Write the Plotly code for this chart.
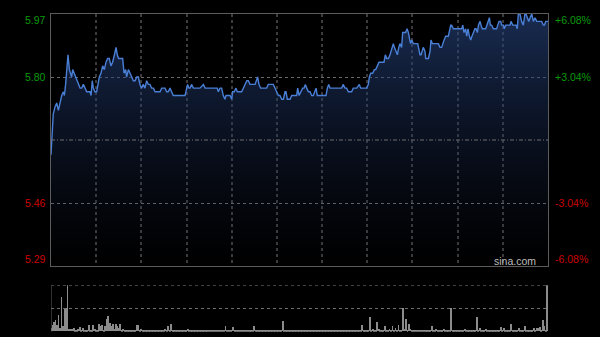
import plotly.graph_objects as go

# ---- data (minutes since 09:30, HK session with lunch break removed) ----
minutes = [0, 1.5, 2.7, 3.8, 4.9, 6.0, 7.1, 8.2, 8.9, 9.7, 10.4, 11.3, 12.2, 13.1, 13.7, 14.4, 15.3, 16.2, 17.0, 18.1,
           19.3, 20.4, 21.5, 22.6, 23.7, 24.8, 25.9, 26.6, 27.4, 28.1, 29.2, 30.3, 31.4, 32.1, 33.2, 34.3, 35.4, 36.5, 37.6, 38.7,
           39.8, 40.9, 42.1, 43.2, 44.0, 44.9, 46.5, 47.6, 48.5, 49.6, 50.2, 51.4, 52.5, 53.6, 54.7, 55.8, 56.9, 58.0, 59.1, 60.2,
           61.3, 62.4, 63.5, 64.6, 65.7, 66.8, 68.0, 69.1, 70.2, 72.4, 73.5, 74.6, 75.7, 76.8, 77.9, 79.0, 80.1, 81.2, 83.4, 85.6,
           87.9, 89.0, 90.1, 90.7, 91.6, 92.3, 93.4, 94.5, 96.7, 98.9,
           101.2, 102.3, 104.5, 106.7, 108.9, 110.4, 111.1, 112.2, 113.3, 114.4, 115.5, 116.2, 118.9, 120.0, 120.6, 121.7, 122.8, 123.7, 126.6, 127.7,
           128.8, 130.0, 131.0, 132.1, 135.5, 136.6, 137.2, 138.1, 139.2, 143.2, 144.3, 147.6, 148.7, 149.8, 151.0, 152.0, 153.2, 154.3, 155.4, 156.0,
           156.9, 158.7, 159.8, 163.1, 163.8, 164.7, 165.8, 167.1, 168.0, 168.9, 169.8, 170.9, 172.0, 173.1, 174.2, 175.3, 176.0, 176.8, 182.6, 183.5,
           184.4, 185.3, 193.0, 194.1, 195.2, 196.3, 197.4, 199.6, 200.7, 203.0, 204.7, 205.6, 209.6, 210.7, 211.4, 212.3, 213.6, 214.7, 215.6, 216.7,
           217.8, 221.1, 222.0, 222.9, 224.0, 225.1, 225.8, 226.7, 227.3, 228.0, 229.1, 230.0, 230.9, 231.7, 232.8, 233.5, 234.4, 235.5, 236.4, 237.3,
           238.2, 238.8, 239.5, 240.6, 243.5, 244.4, 245.0, 245.7, 246.3, 247.2, 248.3, 248.8, 250.6, 251.7, 252.3, 253.2, 257.2, 258.3, 259.4, 260.1,
           261.0, 262.1, 262.7, 263.8, 264.9, 265.4, 266.0, 267.2, 272.7, 273.4, 274.2, 275.3, 276.0, 276.9, 277.8, 278.7, 279.5, 280.4, 281.5, 282.2,
           283.1, 283.8, 284.9, 285.5, 286.4, 288.6, 289.3, 290.4, 291.1, 291.7, 292.6, 293.7, 295.9, 296.6, 297.5, 298.6, 299.2, 300.4, 301.0, 301.9,
           303.0, 303.9, 304.8, 305.4, 306.6, 308.8, 309.6, 310.3, 311.4, 312.5, 313.6, 314.7, 315.4, 316.3, 317.2, 318.1, 319.2, 320.3, 321.4, 322.5,
           325.8, 326.9, 327.6, 328.5, 330.0]
prices = [5.59, 5.70, 5.72, 5.73, 5.71, 5.73, 5.75, 5.76, 5.75, 5.78, 5.83, 5.86, 5.82, 5.81, 5.80, 5.82, 5.81, 5.80, 5.79, 5.78,
          5.77, 5.77, 5.78, 5.77, 5.76, 5.76, 5.76, 5.75, 5.79, 5.77, 5.76, 5.76, 5.78, 5.80, 5.81, 5.83, 5.82, 5.84, 5.85, 5.85,
          5.83, 5.84, 5.86, 5.88, 5.86, 5.85, 5.85, 5.85, 5.81, 5.82, 5.80, 5.82, 5.81, 5.80, 5.79, 5.79, 5.80, 5.80, 5.78, 5.77,
          5.78, 5.77, 5.79, 5.78, 5.78, 5.77, 5.77, 5.76, 5.76, 5.76, 5.77, 5.77, 5.77, 5.76, 5.76, 5.77, 5.76, 5.75, 5.75, 5.75,
          5.75, 5.75, 5.77, 5.78, 5.77, 5.77, 5.78, 5.77, 5.77, 5.77,
          5.78, 5.77, 5.77, 5.77, 5.77, 5.77, 5.76, 5.77, 5.77, 5.75, 5.74, 5.75, 5.75, 5.74, 5.76, 5.76, 5.77, 5.76, 5.76, 5.77,
          5.78, 5.79, 5.79, 5.78, 5.78, 5.79, 5.80, 5.78, 5.77, 5.77, 5.78, 5.78, 5.77, 5.76, 5.75, 5.75, 5.74, 5.74, 5.76, 5.76,
          5.74, 5.74, 5.75, 5.75, 5.77, 5.75, 5.76, 5.77, 5.77, 5.78, 5.77, 5.76, 5.76, 5.75, 5.75, 5.76, 5.77, 5.75, 5.75, 5.77,
          5.78, 5.77, 5.77, 5.78, 5.77, 5.77, 5.76, 5.76, 5.77, 5.77, 5.78, 5.77, 5.77, 5.78, 5.80, 5.81, 5.81, 5.82, 5.82, 5.83,
          5.84, 5.84, 5.86, 5.85, 5.85, 5.86, 5.87, 5.88, 5.89, 5.88, 5.87, 5.86, 5.88, 5.89, 5.88, 5.92, 5.92, 5.92, 5.93, 5.92,
          5.90, 5.89, 5.90, 5.89, 5.89, 5.87, 5.86, 5.86, 5.87, 5.88, 5.87, 5.85, 5.85, 5.87, 5.90, 5.89, 5.89, 5.88, 5.88, 5.89,
          5.90, 5.91, 5.91, 5.91, 5.93, 5.94, 5.94, 5.93, 5.93, 5.94, 5.92, 5.93, 5.91, 5.93, 5.91, 5.90, 5.91, 5.92, 5.93, 5.93,
          5.92, 5.94, 5.95, 5.94, 5.93, 5.93, 5.94, 5.95, 5.96, 5.94, 5.94, 5.93, 5.93, 5.94, 5.95, 5.95, 5.94, 5.94, 5.93, 5.94,
          5.94, 5.94, 5.94, 5.95, 5.94, 5.94, 5.93, 5.97, 5.97, 5.95, 5.94, 5.97, 5.97, 5.96, 5.95, 5.96, 5.97, 5.95, 5.96, 5.95,
          5.95, 5.94, 5.94, 5.95, 5.95]

volume = [8, 14, 20, 24, 14, 36, 7, 74, 11, 48, 50, 100, 6, 6, 5, 7, 4, 4, 5, 9, 4, 7, 3, 2, 4, 14, 4, 2, 14, 5,
          4, 4, 16, 11, 14, 4, 12, 27, 34, 19, 11, 16, 5, 16, 11, 7, 16, 4, 5, 2, 3, 2, 3, 2, 2, 3, 2, 13, 13, 3,
          6, 3, 4, 2, 3, 2, 2, 3, 2, 2, 2, 3, 2, 2, 3, 2, 6, 3, 12, 3, 16, 3, 2, 2, 3, 2, 2, 2, 3, 2,
          3, 5, 3, 2, 2, 2, 3, 2, 2, 3, 2, 2, 3, 2, 2, 2, 3, 2, 2, 2, 3, 2, 2, 3, 2, 3, 11, 2, 2, 3,
          2, 10, 3, 2, 2, 3, 2, 2, 3, 2, 2, 3, 2, 2, 3, 12, 2, 3, 2, 2, 3, 2, 2, 3, 2, 2, 3, 2, 3, 2,
          4, 2, 3, 2, 22, 3, 2, 2, 3, 2, 2, 3, 2, 2, 3, 2, 2, 3, 2, 2, 3, 2, 2, 3, 2, 2, 3, 2, 2, 3,
          2, 3, 2, 2, 3, 2, 2, 3, 2, 2, 3, 2, 2, 3, 2, 3, 2, 3, 4, 3, 2, 4, 3, 2, 3, 2, 4, 13, 3, 2,
          3, 4, 32, 3, 6, 3, 4, 20, 6, 3, 4, 3, 12, 3, 4, 5, 3, 12, 3, 8, 4, 14, 3, 4, 50, 5, 27, 4, 17, 6,
          3, 4, 3, 2, 3, 2, 4, 3, 2, 3, 2, 3, 2, 12, 3, 2, 5, 3, 2, 3, 2, 6, 3, 2, 3, 2, 50, 4, 3, 2,
          3, 2, 3, 2, 3, 5, 3, 2, 3, 2, 3, 2, 3, 31, 3, 7, 3, 2, 3, 5, 3, 2, 3, 2, 3, 4, 3, 2, 4, 10,
          3, 8, 3, 4, 3, 4, 15, 3, 4, 3, 4, 8, 3, 4, 3, 12, 4, 3, 4, 3, 4, 7, 3, 7, 8, 10, 3, 24, 12, 4, 100]
vol_minutes = list(range(len(volume)))

prev_close = 5.63
price_ticks = [5.97, 5.80, 5.46, 5.29]
pct_labels = ["+6.08%", "+3.04%", "-3.04%", "-6.08%"]
grid_minutes = list(range(0, 331, 30))

# ---- layout geometry ----
W, H = 600, 337
x0, x1 = 51 / W, 548 / W
main_dom = [1 - 266 / H, 1 - 14 / H]
vol_dom = [1 - 331.7 / H, 1 - 285.3 / H]

fig = go.Figure()
fig.add_trace(go.Scatter(
    x=minutes, y=prices, mode="lines",
    line=dict(color="#4a7fd6", width=1.4),
    fill="tozeroy",
    fillgradient=dict(type="vertical", start=5.29, stop=5.97,
                      colorscale=[[0, "rgba(20,35,70,0.0)"], [1, "rgba(40,70,130,0.62)"]]),
    hoverinfo="skip", showlegend=False, xaxis="x", yaxis="y"))

fig.add_trace(go.Bar(
    x=vol_minutes, y=volume, width=0.6, marker=dict(color="#8c8c8c", line=dict(width=0)),
    hoverinfo="skip", showlegend=False, xaxis="x2", yaxis="y2"))

grid_col = "#3c3c3c"
fig.update_layout(
    width=W, height=H, margin=dict(l=0, r=0, t=0, b=0),
    paper_bgcolor="#000000", plot_bgcolor="#000000",
    bargap=0,
    xaxis=dict(domain=[x0, x1], range=[0, 330], tickvals=grid_minutes, showticklabels=False, ticks="",
               showgrid=True, gridcolor=grid_col, griddash="dot", gridwidth=1.5, zeroline=False,
               showline=True, mirror=True, linecolor="#5c5c5c", linewidth=1, anchor="y"),
    yaxis=dict(domain=main_dom, range=[5.29, 5.97], tickvals=[5.46, 5.80], showticklabels=False, ticks="",
               showgrid=True, gridcolor="#6a6a6a", griddash="dot", gridwidth=1, zeroline=False,
               showline=True, mirror=True, linecolor="#5c5c5c", linewidth=1, anchor="x"),
    xaxis2=dict(domain=[x0, x1], range=[0, 330.4], showticklabels=False, ticks="", showgrid=False,
                zeroline=False, showline=False, anchor="y2"),
    yaxis2=dict(domain=vol_dom, range=[0, 100], showticklabels=False, ticks="", showgrid=False,
                zeroline=False, showline=False, anchor="x2"),
)

shapes = [
    dict(type="line", xref="x", yref="y", x0=0, x1=330, y0=prev_close, y1=prev_close,
         line=dict(color="#6e6e6e", width=1, dash="4px,2px,1px,2px")),
    dict(type="line", xref="x2", yref="y2", x0=0, x1=330, y0=100, y1=100,
         line=dict(color="#6e6e6e", width=1, dash="dot")),
    dict(type="line", xref="x2", yref="y2", x0=0, x1=330, y0=50, y1=50,
         line=dict(color="#6e6e6e", width=1, dash="dot")),
    dict(type="line", xref="x2", yref="y2", x0=0, x1=0, y0=0, y1=100,
         line=dict(color="#5c5c5c", width=1)),
]
fig.update_layout(shapes=shapes)

left_colors = ["#0a9a0a", "#0a9a0a", "#cc0000", "#cc0000"]
anchors = ["top", "middle", "middle", "bottom"]
shifts = [2, 0, 0, -1]
font = "Arial, Liberation Sans, sans-serif"
for p, lab, col, ya, sh in zip(price_ticks, pct_labels, left_colors, anchors, shifts):
    fig.add_annotation(x=48 / W, xref="paper", y=p, yref="y", text=f"{p:.2f}", showarrow=False,
                       xanchor="right", yanchor=ya, yshift=sh, font=dict(family=font, size=10.5, color=col))
    fig.add_annotation(x=553 / W, xref="paper", y=p, yref="y", text=lab, showarrow=False,
                       xanchor="left", yanchor=ya, yshift=sh, font=dict(family=font, size=10.5, color=col))

fig.add_annotation(x=538 / W, xref="paper", y=1 - 261 / H, yref="paper", text="sina.com", showarrow=False,
                   xanchor="right", yanchor="middle", font=dict(family=font, size=10.5, color="#bdbdbd"))

fig.write_html("out.html")
